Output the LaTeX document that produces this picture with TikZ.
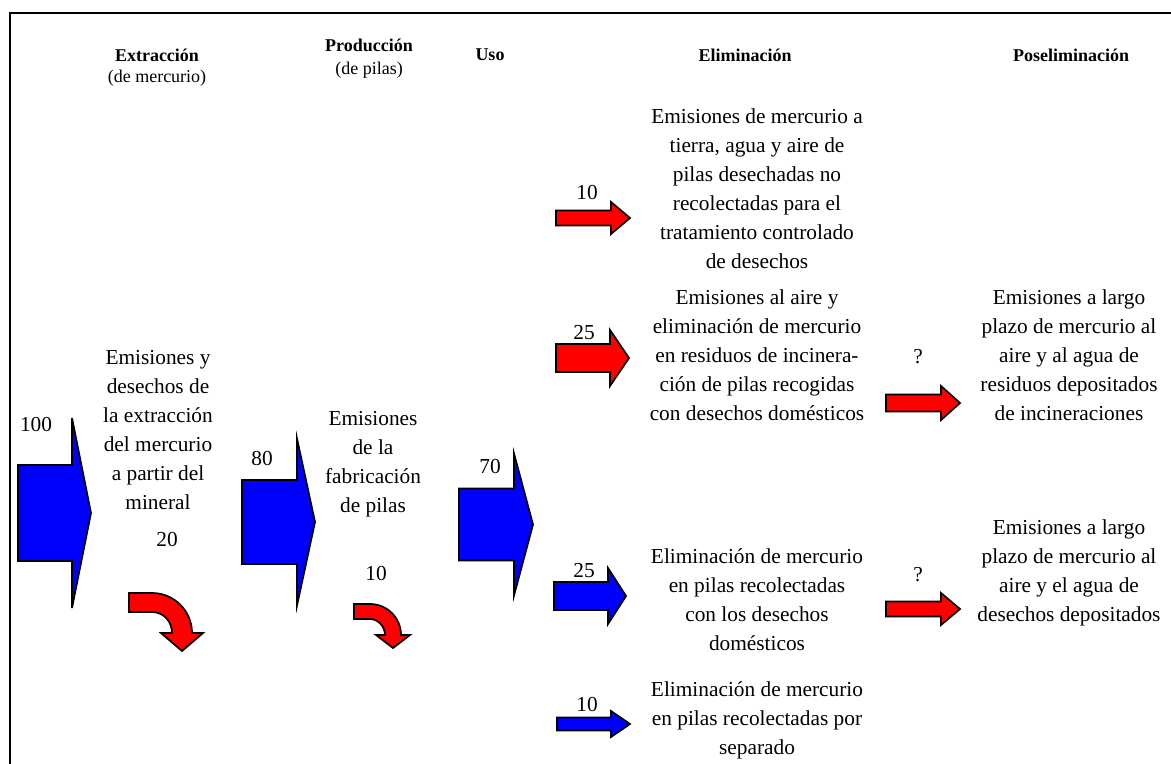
\documentclass[tikz,border=0pt]{standalone}
\usepackage{fontspec}
\setmainfont{Liberation Serif}
% straight block arrow: style, body left x, head base x, tip x, centre y, body half height, head half height
\newcommand\flowarrow[7]{%
  \filldraw[#1] (#2,{#5-#6}) -- (#3,{#5-#6}) -- (#3,{#5-#7}) -- (#4,#5)
    -- (#3,{#5+#7}) -- (#3,{#5+#6}) -- (#2,{#5+#6}) -- cycle;}
\begin{document}
\begin{tikzpicture}[x=0.75pt,y=-0.75pt,
  txt/.style={font=\fontsize{16}{21.75}\selectfont, align=center, inner sep=0pt},
  num/.style={font=\fontsize{16}{18}\selectfont, inner sep=0pt},
  hdr/.style={font=\fontsize{13.5}{16}\selectfont\bfseries, inner sep=0pt},
  hdrsub/.style={font=\fontsize{13.5}{16}\selectfont, inner sep=0pt},
  bluearrow/.style={fill=blue, draw=black, line width=1.3pt, line join=miter},
  redarrow/.style={fill=red, draw=black, line width=1.3pt, line join=miter},
]
\useasboundingbox (0,0) rectangle (1171,764);
\draw[line width=1.8pt] (10,764) -- (10,13) -- (1171,13);

% column headings
\node[hdr]    (hExt)  at (157,55) {Extracción};
\node[hdrsub] (hExtS) at (157,78) {(de mercurio)};
\node[hdr]    (hPro)  at (369,45) {Producción};
\node[hdrsub] (hProS) at (369,70) {(de pilas)};
\node[hdr]    (hUso)  at (490,55) {Uso};
\node[hdr]    (hEli)  at (745,55) {Eliminación};
\node[hdr]    (hPos)  at (1071,55) {Poseliminación};

% main mercury flow
\flowarrow{bluearrow}{18}{72}{91}{513}{48}{95}
\flowarrow{bluearrow}{242}{297}{315}{522}{42}{83.5}
\flowarrow{bluearrow}{459}{514}{533}{524.5}{36}{71}
\node[num] (n100) at (36,425) {100};
\node[num] (n80)  at (262,459) {80};
\node[num] (n70)  at (490,467) {70};

% losses during extraction and production
\node[txt] (tExt) at (158,430) {Emisiones y\\desechos de\\la extracción\\del mercurio\\a partir del\\mineral};
\node[num] (n20) at (167,540) {20};
\filldraw[redarrow] (129,593) -- (152,593) .. controls (174.1,593) and (192,610.9) .. (192,633)
  -- (203,633) -- (182,651) -- (161,633) -- (172,633)
  .. controls (172,621.4) and (163.6,612) .. (152,612) -- (129,612) -- cycle;

\node[txt] (tPro) at (373,464) {Emisiones\\de la\\fabricación\\de pilas};
\node[num] (n10p) at (376,574) {10};
\filldraw[redarrow] (354,604) -- (370,604) .. controls (387.1,604) and (401,617.9) .. (401,635)
  -- (410,635) -- (393,648) -- (376,635) -- (385,635)
  .. controls (385,626.7) and (378.3,619) .. (370,619) -- (354,619) -- cycle;

% disposal routes
\flowarrow{redarrow}{556}{611}{630}{218}{7.5}{16}
\node[num] (n10a) at (587,193) {10};
\node[txt] (tE1) at (757,189) {Emisiones de mercurio a\\tierra, agua y aire de\\pilas desechadas no\\recolectadas para el\\tratamiento controlado\\de desechos};

\flowarrow{redarrow}{556}{610}{629}{358}{14}{28}
\node[num] (n25a) at (584,333) {25};
\node[txt] (tE2) at (757,355) {Emisiones al aire y\\eliminación de mercurio\\en residuos de incinera-\\ción de pilas recogidas\\con desechos domésticos};

\flowarrow{bluearrow}{554}{608}{626}{596}{14}{28}
\node[num] (n25b) at (584,571) {25};
\node[txt] (tE3) at (757,600) {Eliminación de mercurio\\en pilas recolectadas\\con los desechos\\domésticos};

\flowarrow{bluearrow}{557}{611}{630}{724}{6.5}{13}
\node[num] (n10b) at (587,705) {10};
\node[txt] (tE4) at (757,720) {Eliminación de mercurio\\en pilas recolectadas por\\separado};

% after disposal
\flowarrow{redarrow}{886}{941}{960}{403}{8.5}{17}
\node[num] (nq1) at (918,357) {?};
\node[txt] (tP1) at (1069,355) {Emisiones a largo\\plazo de mercurio al\\aire y al agua de\\residuos depositados\\de incineraciones};

\flowarrow{redarrow}{886}{941}{960}{609}{7.5}{16}
\node[num] (nq2) at (918,575) {?};
\node[txt] (tP2) at (1069,573) {Emisiones a largo\\plazo de mercurio al\\aire y el agua de\\desechos depositados};
\end{tikzpicture}
\end{document}
